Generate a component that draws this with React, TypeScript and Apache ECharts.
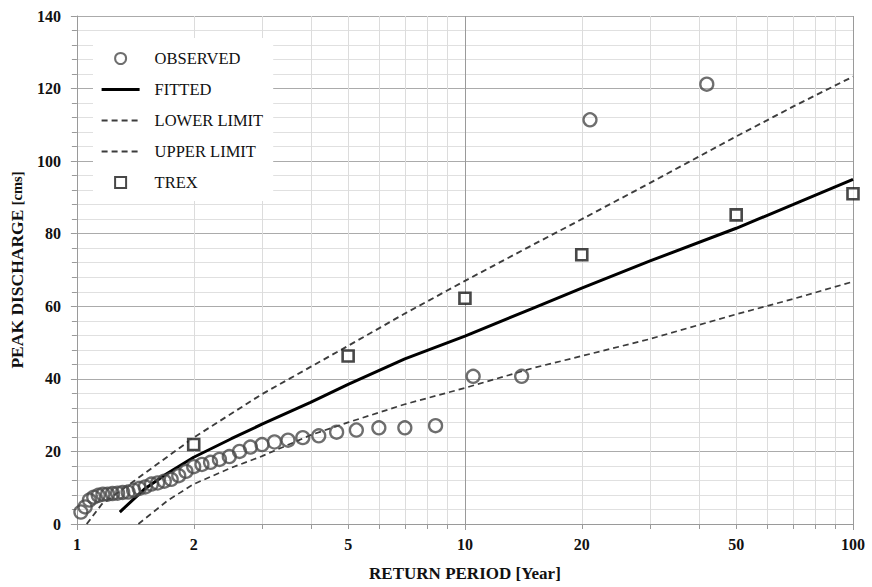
import React, { useEffect, useRef } from "react";
import * as echarts from "echarts";

// Observed (plotting position return period, peak discharge)
const observedT = [1.024, 1.05, 1.077, 1.105, 1.135, 1.167, 1.2, 1.235, 1.273, 1.3125, 1.355, 1.4, 1.448, 1.5, 1.556, 1.615, 1.68, 1.75, 1.83, 1.91, 2, 2.1, 2.21, 2.33, 2.47, 2.625, 2.8, 3, 3.23, 3.5, 3.82, 4.2, 4.67, 5.25, 6, 7, 8.4, 10.5, 14, 21, 42];
const observedQ = [3.3, 4.7, 6.6, 7.4, 7.9, 8.2, 8.2, 8.4, 8.5, 8.7, 8.8, 9.3, 9.8, 10.2, 11.0, 11.3, 11.8, 12.3, 13.3, 14.5, 15.8, 16.4, 17.0, 17.8, 18.6, 20.0, 21.2, 21.9, 22.6, 23.1, 23.8, 24.3, 25.3, 25.9, 26.5, 26.5, 27.1, 40.7, 40.7, 111.4, 121.2];

const fittedT = [1.29, 1.5, 1.7, 2, 2.5, 3, 4, 5, 7, 10, 15, 20, 30, 50, 70, 100];
const fittedQ = [3.3, 9.8, 13.8, 18.4, 23.5, 27.5, 33.5, 38.5, 45.5, 51.8, 59.5, 65, 72.5, 81.5, 88, 95];

const lowerT = [1.44, 1.72, 2, 2.5, 3, 4, 5, 7, 10, 15, 20, 30, 50, 70, 100];
const lowerQ = [0, 6.6, 11, 15.5, 18.7, 24.5, 28, 33, 37.5, 43, 46.3, 51, 57.8, 62, 66.8];

const upperT = [1.06, 1.16, 1.41, 2, 3, 5, 7, 10, 15, 20, 30, 50, 70, 100];
const upperQ = [0, 5.5, 12, 23.8, 35.8, 49.1, 58, 67, 77, 84, 94, 106.8, 115, 123.3];

const trexT = [2, 5, 10, 20, 50, 100];
const trexQ = [21.9, 46.3, 62.2, 74.2, 85.2, 91.0];

const xMinorGrid = [2, 3, 4, 5, 6, 7, 8, 9, 20, 30, 40, 50, 60, 70, 80, 90];
const xTickLabels = [1, 2, 5, 10, 20, 50, 100];

const yMin = 0;
const yMax = 140;
const yInterval = 20;

const pair = (xs: number[], ys: number[]) => xs.map((x, i) => [x, ys[i]]);

export default function App() {
  const ref = useRef<HTMLDivElement>(null);
  useEffect(() => {
    const chart = echarts.init(ref.current!, null, { renderer: "svg" });
    const serif = '"Liberation Serif", "Times New Roman", serif';
    const ink = "#111";
    const hideDot = { opacity: 0 };
    chart.setOption({
      animation: false,
      backgroundColor: "#fff",
      grid: { left: 75, right: 19, top: 16, bottom: 60 },
      legend: {
        orient: "vertical",
        left: 93,
        top: 38,
        backgroundColor: "#fff",
        padding: [12, 10, 10, 7],
        itemWidth: 38,
        itemHeight: 11,
        itemGap: 14,
        selectedMode: false,
        textStyle: {
          fontFamily: serif,
          fontSize: 16.5,
          color: ink,
          padding: [0, 0, 0, 10],
        },
        data: [
          { name: "OBSERVED" },
          { name: "FITTED", itemStyle: hideDot, lineStyle: { width: 3.2 } },
          { name: "LOWER LIMIT", itemStyle: hideDot },
          { name: "UPPER LIMIT", itemStyle: hideDot },
          { name: "TREX", icon: "path://M0,0H10V10H0Z" },
        ],
      },
      xAxis: {
        type: "log",
        logBase: 10,
        min: 1,
        max: 100,
        name: "RETURN PERIOD [Year]",
        nameLocation: "middle",
        nameGap: 41,
        nameTextStyle: { fontFamily: serif, fontWeight: "bold", fontSize: 17, color: ink },
        axisLine: { show: true, lineStyle: { color: "#9a9a9a" } },
        axisTick: { show: true, length: 6, lineStyle: { color: "#9a9a9a" } },
        axisLabel: { show: false },
        splitLine: { show: true, lineStyle: { color: "#9a9a9a", width: 1 } },
        minorTick: { show: false },
        minorSplitLine: { show: false },
      },
      yAxis: {
        type: "value",
        min: yMin,
        max: yMax,
        interval: yInterval,
        name: "{a|PEAK DISCHARGE }{b|[cms]}",
        nameLocation: "middle",
        nameGap: 50,
        nameRotate: 90,
        nameTextStyle: {
          rich: {
            a: { fontFamily: serif, fontWeight: "bold", fontSize: 17.5, color: ink },
            b: { fontFamily: serif, fontWeight: "bold", fontSize: 14.5, color: ink },
          },
        },
        axisLine: { show: true, lineStyle: { color: "#9a9a9a" } },
        axisTick: { show: true, length: 6, lineStyle: { color: "#9a9a9a" } },
        minorTick: { show: true, splitNumber: 5, length: 5, lineStyle: { color: "#9a9a9a" } },
        axisLabel: { margin: 16, fontFamily: serif, fontWeight: "bold", fontSize: 16, color: ink },
        splitLine: { show: true, lineStyle: { color: "#ababab" } },
        minorSplitLine: { show: true, lineStyle: { color: "#e0e0e0" } },
      },
      series: [
        {
          type: "custom",
          name: "xgrid",
          silent: true,
          z: 1,
          clip: false,
          data: xMinorGrid.map((v) => [v, yMin]),
          encode: { x: 0, y: 1 },
          renderItem: (params: any, api: any) => {
            const v = api.value(0);
            const b = api.coord([v, yMin]);
            const t = api.coord([v, yMax]);
            const x = Math.round(b[0]) + 0.5;
            return {
              type: "group",
              children: [
                { type: "line", shape: { x1: x, y1: b[1], x2: x, y2: t[1] }, style: { stroke: "#dcdcdc", lineWidth: 1 } },
                { type: "line", shape: { x1: x, y1: b[1], x2: x, y2: b[1] + 5 }, style: { stroke: "#9a9a9a", lineWidth: 1 } },
              ],
            };
          },
        },
        {
          type: "custom",
          name: "xlabels",
          silent: true,
          z: 1,
          clip: false,
          data: xTickLabels.map((v) => [v, yMin]),
          encode: { x: 0, y: 1 },
          renderItem: (params: any, api: any) => {
            const v = api.value(0);
            const p = api.coord([v, yMin]);
            return {
              type: "text",
              x: p[0],
              y: p[1] + 12,
              style: {
                text: String(v),
                align: "center",
                verticalAlign: "top",
                font: `bold 16px ${serif}`,
                fill: ink,
              },
            };
          },
        },
        {
          type: "line",
          name: "LOWER LIMIT",
          data: pair(lowerT, lowerQ),
          symbol: "none",
          z: 3,
          lineStyle: { color: "#3c3c3c", width: 1.7, type: [6, 4] },
          itemStyle: { color: "#3c3c3c" },
        },
        {
          type: "line",
          name: "UPPER LIMIT",
          data: pair(upperT, upperQ),
          symbol: "none",
          z: 3,
          lineStyle: { color: "#3c3c3c", width: 1.9, type: [6, 4] },
          itemStyle: { color: "#3c3c3c" },
        },
        {
          type: "line",
          name: "FITTED",
          data: pair(fittedT, fittedQ),
          symbol: "none",
          z: 4,
          lineStyle: { color: "#000", width: 3 },
          itemStyle: { color: "#000" },
        },
        {
          type: "scatter",
          name: "OBSERVED",
          data: pair(observedT, observedQ),
          symbol: "circle",
          symbolSize: 13,
          z: 5,
          itemStyle: { color: "rgba(255,255,255,0)", borderColor: "#4a4a4a", borderWidth: 2.3 },
        },
        {
          type: "scatter",
          name: "TREX",
          data: pair(trexT, trexQ),
          symbol: "rect",
          symbolSize: 11,
          z: 6,
          itemStyle: { color: "#fff", borderColor: "#1a1a1a", borderWidth: 2.6 },
        },
      ],
    });
    return () => chart.dispose();
  }, []);
  return (
    <div
      ref={ref}
      style={{ position: "fixed", left: 0, top: 0, width: 872, height: 587, background: "#fff" }}
    />
  );
}
